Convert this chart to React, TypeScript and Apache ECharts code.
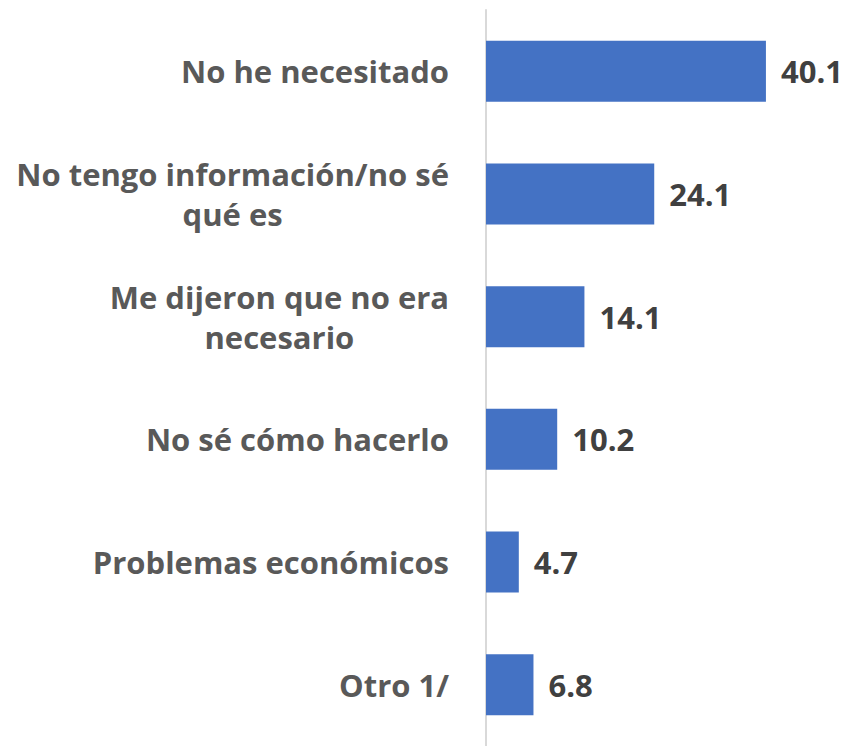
import React, { useEffect, useRef } from "react";
import * as echarts from "echarts";

const categories = [
  "No he necesitado",
  "No tengo información/no sé\nqué es",
  "Me dijeron que no era\nnecesario",
  "No sé cómo hacerlo",
  "Problemas económicos",
  "Otro 1/",
];
const values = [40.1, 24.1, 14.1, 10.2, 4.7, 6.8];

export default function App() {
  const ref = useRef<HTMLDivElement>(null);
  useEffect(() => {
    if (!ref.current) return;
    const chart = echarts.init(ref.current, undefined, { renderer: "svg" });
    const labelFont = {
      color: "#595959",
      fontFamily: "Open Sans",
      fontWeight: "bold",
      fontSize: 31,
      lineHeight: 40,
    };
    chart.setOption({
      animation: false,
      grid: { left: 486, top: 10, width: 363, height: 738, containLabel: false },
      xAxis: {
        type: "value",
        min: 0,
        max: 52,
        show: false,
      },
      yAxis: {
        type: "category",
        inverse: true,
        data: categories,
        axisLine: { show: true, lineStyle: { color: "#d9d9d9", width: 2 } },
        axisTick: { show: false },
        axisLabel: {
          margin: 37,
          ...labelFont,
          align: "right",
          formatter: (v: string) =>
            v
              .split("\n")
              .map((l) => "{c|" + l + "}")
              .join("\n"),
          rich: {
            c: { ...labelFont, align: "center" },
          },
        },
      },
      series: [
        {
          type: "bar",
          data: values,
          barWidth: 61,
          itemStyle: { color: "#4472c4" },
          label: {
            show: true,
            position: "right",
            distance: 15,
            color: "#404040",
            fontFamily: "Open Sans",
            fontWeight: "bold",
            fontSize: 31,
            formatter: (p: any) => p.value.toFixed(1),
          },
        },
      ],
    });
    return () => chart.dispose();
  }, []);
  return (
    <div
      ref={ref}
      style={{ position: "fixed", left: 0, top: 0, width: 853, height: 746, background: "#fff" }}
    />
  );
}
